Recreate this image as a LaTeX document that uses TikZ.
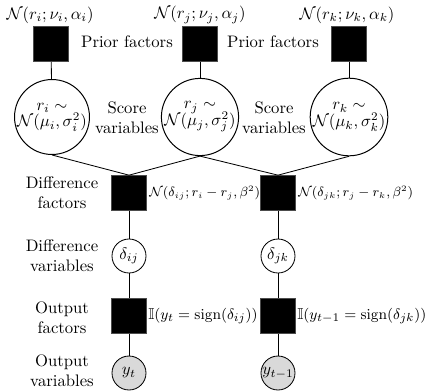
\documentclass[tikz,border=0pt]{standalone}
\usepackage{amssymb}
\usepackage{amsmath}
\begin{document}
\begin{tikzpicture}[x=0.6pt,y=-0.6pt,
  factor/.style={draw=black!70,fill=black,minimum size=21pt,inner sep=0pt},
  bigvar/.style={draw,circle,line width=0.6pt,minimum size=42pt,inner sep=0pt,align=center},
  smallvar/.style={draw,circle,line width=0.5pt,minimum size=20.4pt,inner sep=0pt},
  obsvar/.style={smallvar,fill=black!15},
  lbl/.style={align=center,inner sep=0pt},
  flbl/.style={anchor=west,inner sep=0pt,font=\fontsize{7.8}{10}\selectfont},
  olbl/.style={anchor=west,inner sep=0pt,font=\fontsize{9.5}{11}\selectfont},
  edge/.style={line width=0.5pt}]
\useasboundingbox (0,0) rectangle (430,390);
% prior factors
\node[factor] (pi) at (51,44) {};
\node[factor] (pj) at (200,44) {};
\node[factor] (pk) at (349,44) {};
\node[lbl] (tpi) at (50,15) {$\mathcal{N}(r_i;\nu_i,\alpha_i)$};
\node[lbl] (tpj) at (200,15) {$\mathcal{N}(r_j;\nu_j,\alpha_j)$};
\node[lbl] (tpk) at (347,15) {$\mathcal{N}(r_k;\nu_k,\alpha_k)$};
\node[lbl] (pf1) at (127,42) {Prior factors};
\node[lbl] (pf2) at (273,42) {Prior factors};
% score variables
\node[bigvar] (ri) at (52,117) {$r_i\sim$\\[-2pt]$\mathcal{N}(\mu_i,\sigma_i^2)$};
\node[bigvar] (rj) at (200,117) {$r_j\sim$\\[-2pt]$\mathcal{N}(\mu_j,\sigma_j^2)$};
\node[bigvar] (rk) at (349,117) {$r_k\sim$\\[-2pt]$\mathcal{N}(\mu_k,\sigma_k^2)$};
\node[lbl] (sv1) at (127,118) {Score\\variables};
\node[lbl] (sv2) at (274,118) {Score\\variables};
% difference factors
\node[factor] (dij) at (129,193) {};
\node[factor] (djk) at (278,193) {};
\node[lbl] (df) at (62,193) {Difference\\factors};
\node[flbl] (tdij) at (149,193) {$\mathcal{N}(\delta_{ij};r_i-r_j,\beta^2)$};
\node[flbl] (tdjk) at (298,193) {$\mathcal{N}(\delta_{jk};r_j-r_k,\beta^2)$};
% difference variables
\node[smallvar] (vij) at (129,256) {$\delta_{ij}$};
\node[smallvar] (vjk) at (278,256) {$\delta_{jk}$};
\node[lbl] (dv) at (62,256) {Difference\\variables};
% output factors
\node[factor] (oij) at (129,316) {};
\node[factor] (ojk) at (278,316) {};
\node[lbl] (of) at (62,318) {Output\\factors};
\node[olbl] (toij) at (148,316) {$\mathbb{I}(y_t=\operatorname{sign}(\delta_{ij}))$};
\node[olbl] (tojk) at (297,316) {$\mathbb{I}(y_{t-1}=\operatorname{sign}(\delta_{jk}))$};
% output variables
\node[obsvar] (yt) at (129,373) {$y_t$};
\node[obsvar] (yt1) at (278,373) {$y_{t-1}$};
\node[lbl] (ov) at (62,371) {Output\\variables};
% edges
\draw[edge] (pi) -- (ri);
\draw[edge] (pj) -- (rj);
\draw[edge] (pk) -- (rk);
\draw[edge] (ri.south) -- (dij.north);
\draw[edge] (rj.south) -- (dij.north);
\draw[edge] (rj.south) -- (djk.north);
\draw[edge] (rk.south) -- (djk.north);
\draw[edge] (dij) -- (vij);
\draw[edge] (djk) -- (vjk);
\draw[edge] (vij) -- (oij);
\draw[edge] (vjk) -- (ojk);
\draw[edge] (oij) -- (yt);
\draw[edge] (ojk) -- (yt1);
\end{tikzpicture}
\end{document}
